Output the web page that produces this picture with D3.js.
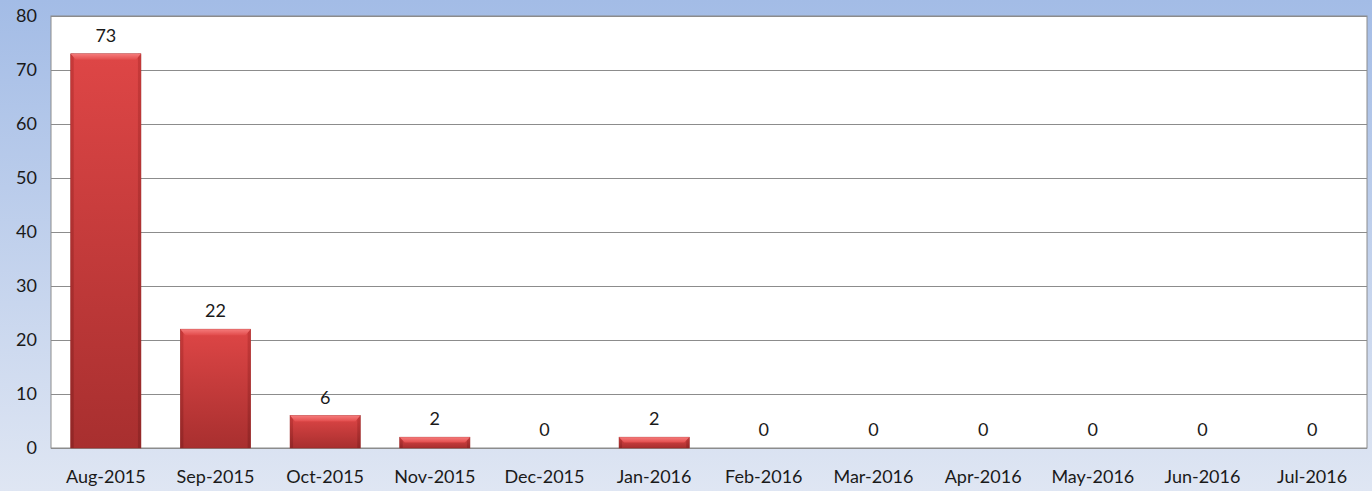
<!DOCTYPE html>
<html>
<head>
<meta charset="utf-8">
<script src="https://cdn.jsdelivr.net/npm/d3@7"></script>
<style>
  html, body { margin: 0; padding: 0; overflow: hidden; }
  svg { display: block; }
  text { font-family: Lato, "Open Sans", sans-serif; fill: #1a1a1a; }
</style>
</head>
<body>
<svg id="chart"></svg>
<script>
// data
const months = ['Aug-2015', 'Sep-2015', 'Oct-2015', 'Nov-2015', 'Dec-2015', 'Jan-2016',
                'Feb-2016', 'Mar-2016', 'Apr-2016', 'May-2016', 'Jun-2016', 'Jul-2016'];
const counts = [73, 22, 6, 2, 0, 2, 0, 0, 0, 0, 0, 0];
const yTicks = [0, 10, 20, 30, 40, 50, 60, 70, 80];

const W = 1372, H = 491;
const margin = { top: 16, right: 5, bottom: 43, left: 51 };

const svg = d3.select('#chart').attr('width', W).attr('height', H);
const defs = svg.append('defs');

// page background, blue fading to pale
const bg = defs.append('linearGradient').attr('id', 'bg')
  .attr('x1', 0).attr('y1', 0).attr('x2', 0).attr('y2', 1);
bg.append('stop').attr('offset', '0%').attr('stop-color', '#a3bce6');
bg.append('stop').attr('offset', '100%').attr('stop-color', '#dfe6f3');
svg.append('rect').attr('width', W).attr('height', H).attr('fill', 'url(#bg)');

// bar body gradient
const bodyGrad = defs.append('linearGradient').attr('id', 'barBody')
  .attr('x1', 0).attr('y1', 0).attr('x2', 0).attr('y2', 1);
bodyGrad.append('stop').attr('offset', '0%').attr('stop-color', '#de4646');
bodyGrad.append('stop').attr('offset', '100%').attr('stop-color', '#a82f2f');

const sideGrad = defs.append('linearGradient').attr('id', 'barSide')
  .attr('x1', 0).attr('y1', 0).attr('x2', 0).attr('y2', 1);
sideGrad.append('stop').attr('offset', '0%').attr('stop-color', '#c23636');
sideGrad.append('stop').attr('offset', '100%').attr('stop-color', '#8c2424');

const topGrad = defs.append('linearGradient').attr('id', 'barTop')
  .attr('x1', 0).attr('y1', 0).attr('x2', 0).attr('y2', 1);
topGrad.append('stop').attr('offset', '0%').attr('stop-color', '#f57b7b');
topGrad.append('stop').attr('offset', '100%').attr('stop-color', '#e24c4c');

const x = d3.scaleBand()
  .domain(months)
  .range([margin.left, W - margin.right])
  .paddingInner(0.36)
  .paddingOuter(0.18);

const y = d3.scaleLinear()
  .domain([0, 80])
  .range([H - margin.bottom, margin.top]);

// plot area
svg.append('rect')
  .attr('x', margin.left).attr('y', margin.top)
  .attr('width', W - margin.right - margin.left)
  .attr('height', y(0) - margin.top)
  .attr('fill', '#ffffff')
  .attr('stroke', '#8c8c8c').attr('stroke-width', 1);

// gridlines
svg.append('g')
  .selectAll('line')
  .data(yTicks)
  .join('line')
  .attr('x1', margin.left).attr('x2', W - margin.right)
  .attr('y1', d => Math.round(y(d)) + 0.5).attr('y2', d => Math.round(y(d)) + 0.5)
  .attr('stroke', '#8c8c8c').attr('stroke-width', 1);

// y tick labels
svg.append('g')
  .selectAll('text')
  .data(yTicks)
  .join('text')
  .attr('x', margin.left - 14)
  .attr('y', d => y(d))
  .attr('dy', '0.35em')
  .attr('text-anchor', 'end')
  .attr('font-size', 18)
  .text(d => d);

// x tick labels
svg.append('g')
  .selectAll('text')
  .data(months)
  .join('text')
  .attr('x', d => x(d) + x.bandwidth() / 2)
  .attr('y', y(0) + 35)
  .attr('text-anchor', 'middle')
  .attr('font-size', 18)
  .text(d => d);

// bars with a bevelled look
const rows = months.map((m, i) => ({ month: m, value: counts[i] }));
const bars = svg.append('g').selectAll('g')
  .data(rows.filter(d => d.value > 0))
  .join('g');

const bx0 = d => x(d.month);
const bx1 = d => x(d.month) + x.bandwidth();
const by = d => y(d.value);
const bev = d => Math.min(6, (y(0) - y(d.value)) / 2);
const sw = 3;

bars.append('rect')
  .attr('x', bx0).attr('y', by)
  .attr('width', x.bandwidth())
  .attr('height', d => y(0) - y(d.value))
  .attr('fill', 'url(#barBody)')
  .attr('stroke', '#9a2b2b').attr('stroke-width', 0.6);

bars.append('rect')
  .attr('x', bx0).attr('y', by)
  .attr('width', sw)
  .attr('height', d => y(0) - y(d.value))
  .attr('fill', 'url(#barSide)').attr('opacity', 0.8);

bars.append('rect')
  .attr('x', d => bx1(d) - sw).attr('y', by)
  .attr('width', sw)
  .attr('height', d => y(0) - y(d.value))
  .attr('fill', 'url(#barSide)').attr('opacity', 0.8);

bars.append('polygon')
  .attr('points', d => [
    [bx0(d), by(d)], [bx1(d), by(d)],
    [bx1(d) - sw - 2, by(d) + bev(d)], [bx0(d) + sw + 2, by(d) + bev(d)]
  ].map(p => p.join(',')).join(' '))
  .attr('fill', 'url(#barTop)');

// value labels
svg.append('g')
  .selectAll('text')
  .data(rows)
  .join('text')
  .attr('x', d => x(d.month) + x.bandwidth() / 2)
  .attr('y', d => y(d.value) - 12)
  .attr('text-anchor', 'middle')
  .attr('font-size', 18)
  .text(d => d.value);
</script>
</body>
</html>
